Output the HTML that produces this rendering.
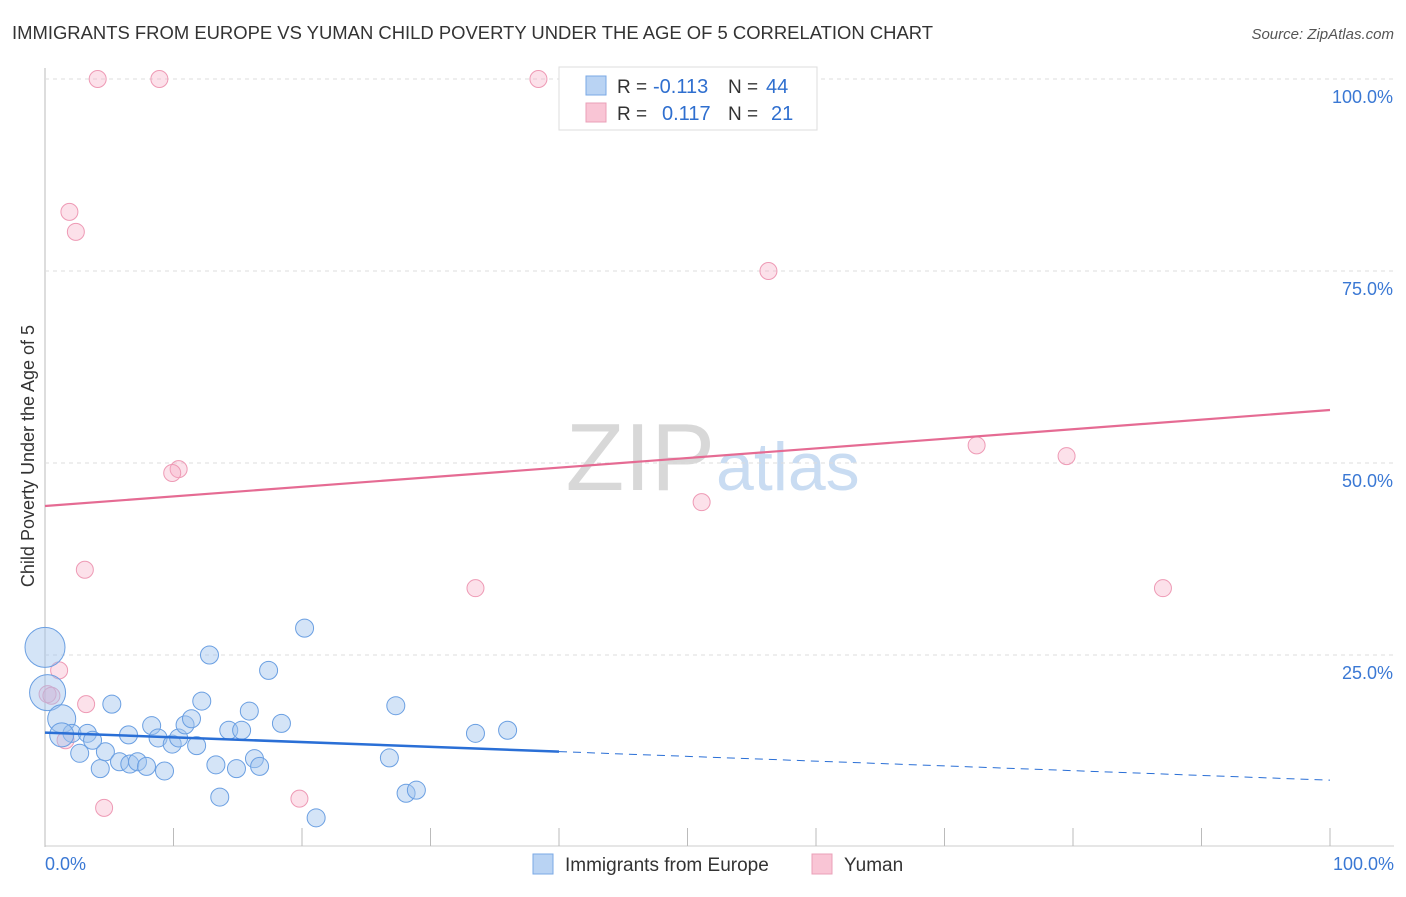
<!DOCTYPE html>
<html><head><meta charset="utf-8"><style>
body{margin:0;background:#fff;font-family:"Liberation Sans",sans-serif;}
svg text{font-family:"Liberation Sans",sans-serif;}
</style></head><body>
<svg id="chart" width="1406" height="892" viewBox="0 0 1406 892">
<text x="12" y="39" font-size="18" fill="#333" textLength="921" lengthAdjust="spacingAndGlyphs">IMMIGRANTS FROM EUROPE VS YUMAN CHILD POVERTY UNDER THE AGE OF 5 CORRELATION CHART</text>
<text x="1394" y="39" font-size="15" fill="#555" font-style="italic" text-anchor="end">Source: ZipAtlas.com</text>
<text x="715" y="490" font-size="96" fill="#d8d8d8" text-anchor="end" font-family="Liberation Serif">ZIP</text>
<text x="716" y="490" font-size="68" fill="#c9dcf2">atlas</text>
<text x="34" y="456" font-size="18" fill="#333" text-anchor="middle" transform="rotate(-90 34 456)">Child Poverty Under the Age of 5</text>
<g id="grid"></g><g id="marks"></g>
<g>
<rect x="559" y="67" width="258" height="63" fill="#fff" stroke="#ddd"/>
<rect x="586" y="76" width="20" height="19" fill="#b9d3f3" stroke="#7aa8e6"/>
<rect x="586" y="103" width="20" height="19" fill="#f9c5d5" stroke="#eaa0b8"/>
<text x="617" y="93" font-size="19" fill="#333">R = </text><text x="653" y="93" font-size="20" fill="#2f6fcf">-0.113</text>
<text x="728" y="93" font-size="19" fill="#333">N = </text><text x="766" y="93" font-size="20" fill="#2f6fcf">44</text>
<text x="617" y="120" font-size="19" fill="#333">R = </text><text x="662" y="120" font-size="20" fill="#2f6fcf">0.117</text>
<text x="728" y="120" font-size="19" fill="#333">N = </text><text x="771" y="120" font-size="20" fill="#2f6fcf">21</text>
</g>
<g>
<rect x="533" y="854" width="20" height="20" fill="#b9d3f3" stroke="#7aa8e6"/>
<text x="565" y="871" font-size="19" fill="#333">Immigrants from Europe</text>
<rect x="812" y="854" width="20" height="20" fill="#f9c5d5" stroke="#eaa0b8"/>
<text x="844" y="871" font-size="19" fill="#333">Yuman</text>
</g>
<text x="45" y="870" font-size="18" fill="#3a78d4">0.0%</text>
<text x="1394" y="870" font-size="18" fill="#3a78d4" text-anchor="end">100.0%</text>
</svg>
<script>
const blueX=[0,0.2,1.3,2.1,2.7,3.3,4.3,4.7,5.2,5.8,6.6,7.2,7.9,8.3,8.8,9.3,9.9,10.4,10.9,11.4,11.8,12.2,12.8,13.3,13.6,14.3,14.9,15.3,15.9,16.3,16.7,17.4,18.4,20.2,21.1,26.8,27.3,28.1,28.9,33.5,36.0,6.5,1.3,3.7];
const blueY=[26.0,20.1,16.7,14.8,12.2,14.8,10.2,12.4,18.6,11.1,10.8,11.1,10.5,15.8,14.2,9.9,13.4,14.2,15.9,16.7,13.2,19.0,25.0,10.7,6.5,15.2,10.2,15.2,17.7,11.5,10.5,23.0,16.1,28.5,3.8,11.6,18.4,7.0,7.4,14.8,15.2,14.6,14.6,13.9];
const blueR=[20,18,14,9,9,9,9,9,9,9,9,9,9,9,9,9,9,9,9,9,9,9,9,9,9,9,9,9,9,9,9,9,9,9,9,9,9,9,9,9,9,9,12,9];
const pinkX=[4.1,8.9,38.4,1.9,2.4,56.3,10.4,9.9,72.5,79.5,51.1,3.1,33.5,87.0,1.1,0.2,0.5,3.2,1.6,4.6,19.8];
const pinkY=[100,100,100,82.7,80.1,75.0,49.2,48.7,52.3,50.9,44.9,36.1,33.7,33.7,23.0,19.9,19.7,18.6,13.9,5.1,6.3];
const yTicks=[25,50,75,100];
const yTickLabels=["25.0%","50.0%","75.0%","100.0%"];
const xTicks=[0,10,20,30,40,50,60,70,80,90,100];
const pinkTrend=[44.4,56.9];
const blueTrend=[14.9,8.7];
const NS="http://www.w3.org/2000/svg";
const X=v=>45+v*12.85, Y=v=>847-v*7.68;
function mk(parent,tag,attrs){const e=document.createElementNS(NS,tag);for(const k in attrs)e.setAttribute(k,attrs[k]);document.getElementById(parent).appendChild(e);return e;}
let e;
e=mk('grid','line',{x1:45,y1:68,x2:45,y2:847,stroke:'#bbb'});


e=mk('grid','line',{x1:45,y1:846,x2:1394,y2:846,stroke:'#ccc'});


yTicks.forEach((t,i)=>{
 e=mk('grid','line',{x1:45,y1:Y(t),x2:1394,y2:Y(t),stroke:'#ddd','stroke-dasharray':'4,4'});
 
 
 e=mk('grid','text',{x:1393,y:Y(t)+24,'font-size':18,fill:'#3a78d4','text-anchor':'end'});
 e.textContent=yTickLabels[i];
 
 
});
xTicks.forEach(t=>{
 e=mk('grid','line',{x1:X(t),y1:828,x2:X(t),y2:846,stroke:'#bbb'});
 
 
});
pinkX.forEach((x,i)=>{
 e=mk('marks','circle',{cx:X(x),cy:Y(pinkY[i]),r:8.5,fill:'rgba(246,170,195,0.35)',stroke:'#ee9ab5','stroke-width':1});
 
 
});
blueX.forEach((x,i)=>{
 e=mk('marks','circle',{cx:X(x),cy:Y(blueY[i]),r:blueR[i],fill:'rgba(160,195,238,0.45)',stroke:'#6a9fe2','stroke-width':1});
 
 
});
e=mk('marks','line',{x1:X(0),y1:Y(pinkTrend[0]),x2:X(100),y2:Y(pinkTrend[1]),stroke:'#e56b93','stroke-width':2.2});


const bAt=v=>blueTrend[0]+(blueTrend[1]-blueTrend[0])*v/100;
e=mk('marks','line',{x1:X(0),y1:Y(bAt(0)),x2:X(40),y2:Y(bAt(40)),stroke:'#2a6fd6','stroke-width':2.5});


e=mk('marks','line',{x1:X(40),y1:Y(bAt(40)),x2:X(100),y2:Y(bAt(100)),stroke:'#2a6fd6','stroke-width':1,'stroke-dasharray':'8,6'});


</script>
</body></html>
